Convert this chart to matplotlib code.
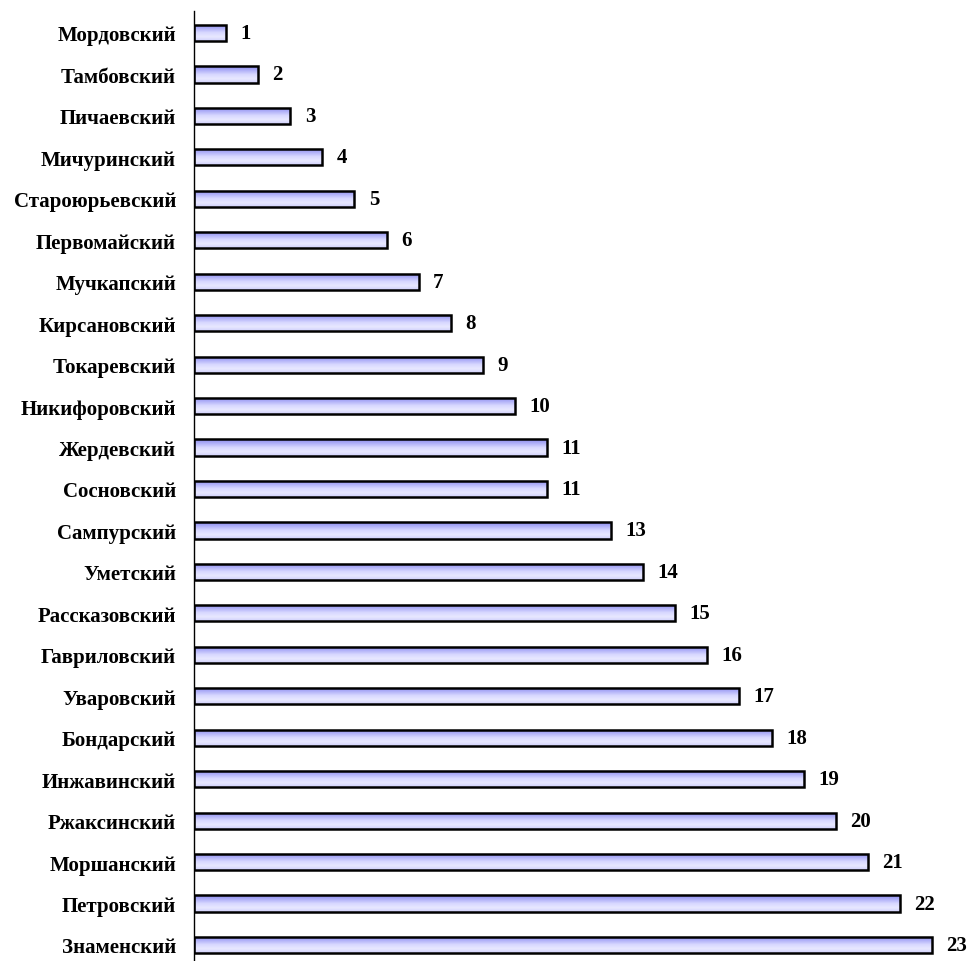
import numpy as np
import matplotlib.pyplot as plt
from matplotlib.colors import LinearSegmentedColormap

districts = ["Мордовский", "Тамбовский", "Пичаевский", "Мичуринский",
             "Староюрьевский", "Первомайский", "Мучкапский", "Кирсановский",
             "Токаревский", "Никифоровский", "Жердевский", "Сосновский",
             "Сампурский", "Уметский", "Рассказовский", "Гавриловский",
             "Уваровский", "Бондарский", "Инжавинский", "Ржаксинский",
             "Моршанский", "Петровский", "Знаменский"]
values = [1, 2, 3, 4, 5, 6, 7, 8, 9, 10, 11, 11, 13, 14, 15, 16, 17, 18,
          19, 20, 21, 22, 23]

plt.rcParams['font.family'] = ['Liberation Serif', 'DejaVu Serif']

fig = plt.figure(figsize=(9.71, 9.62), dpi=100)
ax = fig.add_axes([194 / 971, 0.0, (964 - 194) / 971, 950 / 962])

ypos = np.arange(len(values))
bar_h = 0.39
bars = ax.barh(ypos, values, height=bar_h, color="none",
               edgecolor="black", linewidth=1.8, zorder=3)

# Verlauf in den Balken (oben dunkler, unten heller)
cmap = LinearSegmentedColormap.from_list(
    "grad", ["#8a8aee", "#b0b0f8", "#d8d8ff", "#e8e8ff", "#d0d0fc"])
grad = np.linspace(0, 1, 64).reshape(-1, 1)
for b in bars:
    x0, y0 = b.get_x(), b.get_y()
    w, h = b.get_width(), b.get_height()
    im = ax.imshow(grad, cmap=cmap, aspect="auto", origin="upper",
                   extent=[x0, x0 + w, y0 + h, y0], zorder=2)
    im.set_clip_path(b)

for y, v in zip(ypos, values):
    ax.text(v + 0.45, y, str(v), va="center", ha="left",
            fontsize=15, fontweight="bold")

ax.set_yticks(ypos)
ax.set_yticklabels(districts, fontsize=15, fontweight="bold")
ax.tick_params(axis="y", length=0, pad=13)
ax.set_xticks([])
ax.set_xlim(0, 24)
ax.set_ylim(len(values) - 1 + 0.386, -0.53)

for s in ["top", "right", "bottom"]:
    ax.spines[s].set_visible(False)
ax.spines["left"].set_linewidth(1.0)

fig.savefig("out.png", dpi=100)
